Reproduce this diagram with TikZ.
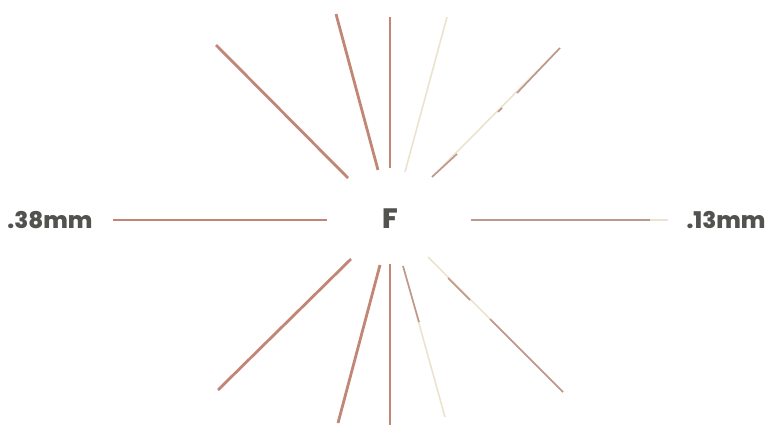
\documentclass[tikz,border=0pt]{standalone}
\usepackage{fontspec}
\setsansfont{Poppins}[BoldFont={Poppins ExtraBold}]
\usepackage{tikz}
\usetikzlibrary{positioning}

\definecolor{penbrown}{RGB}{194,134,118}
\definecolor{penthin}{RGB}{190,152,136}
\definecolor{pencream}{RGB}{236,226,208}
\definecolor{inkgray}{RGB}{82,82,78}

\begin{document}
\begin{tikzpicture}[
    x=1pt, y=-1pt,
    lbl/.style={font=\sffamily\bfseries\fontsize{23}{23}\selectfont,
                text=inkgray, inner sep=0pt},
    heavy/.style={draw=penbrown, line width=2.8pt},
    fine/.style={draw=penthin, line width=1.6pt},
    faint/.style={draw=pencream, line width=1.6pt}
]
    \useasboundingbox (0,0) rectangle (773,434);

    \node[lbl, font=\sffamily\bfseries\fontsize{28}{28}\selectfont] (pen) at (390,219) {F};
    \node[lbl] (wide) at (50,220) {.38mm};
    \node[lbl] (narrow) at (726,220) {.13mm};

    % heavy side
    \draw[heavy] (113,220) -- (327,220);
    \draw[heavy] (216,45) -- (348,178);
    \draw[heavy] (336,14) -- (378,170);
    \draw[fine, draw=penbrown, line width=2pt] (390,17) -- (390,168);
    \draw[heavy] (351,259) -- (218,390);
    \draw[heavy] (380,265) -- (338,423);
    \draw[heavy] (390,264) -- (390,425);

    % fine side, fading
    \draw[faint] (471,220) -- (668,220);
    \draw[fine] (471,220) -- (650,220);
    \draw[faint] (447,17) -- (405,172);
    \draw[faint] (560,48) -- (432,177);
    \draw[fine] (432,177) -- (457,154);
    \draw[fine] (498,112) -- (502,108);
    \draw[fine] (517,93) -- (560,48);
    \draw[faint] (403,266) -- (445,417);
    \draw[fine] (403,266) -- (419,322);
    \draw[faint] (428,257) -- (563,392);
    \draw[fine] (448,278) -- (470,300);
    \draw[fine] (490,319) -- (563,392);
\end{tikzpicture}
\end{document}
